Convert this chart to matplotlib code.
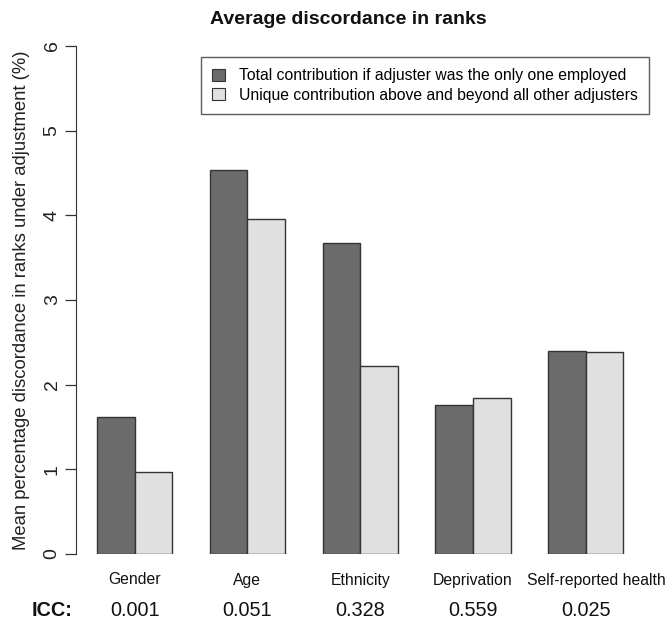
import matplotlib
matplotlib.use("Agg")
import matplotlib.pyplot as plt
import matplotlib.transforms as mtransforms
from matplotlib.patches import Patch
import numpy as np

categories = ["Gender", "Age", "Ethnicity", "Deprivation", "Self-reported health"]
total_contrib = [1.62, 4.54, 3.67, 1.76, 2.40]
unique_contrib = [0.97, 3.96, 2.22, 1.84, 2.38]
icc_values = ["0.001", "0.051", "0.328", "0.559", "0.025"]
series_labels = ["Total contribution if adjuster was the only one employed",
                 "Unique contribution above and beyond all other adjusters"]
yticks = [0, 1, 2, 3, 4, 5, 6]
label_shift_px = [0, 0, 0, 0, 11]

plt.rcParams['font.family'] = ['Liberation Sans', 'DejaVu Sans']

W, H = 672, 621
fig = plt.figure(figsize=(W / 100, H / 100), dpi=100)

# pixel geometry
ax_left, ax_right = 76, 648
y0_px, y6_px = 554, 46
ax = fig.add_axes([ax_left / W, (H - y0_px) / H, (ax_right - ax_left) / W, (y0_px - y6_px) / H])

unit = 37.6
x0_px = 97 - unit
ax.set_xlim((ax_left - x0_px) / unit, (ax_right - x0_px) / unit)
ax.set_ylim(0, 6)

dark = "#6b6b6b"
light = "#e0e0e0"
edge = "#333333"

n = len(categories)
lefts_dark = np.array([1 + 3 * i for i in range(n)], dtype=float)
lefts_light = lefts_dark + 1
ax.bar(lefts_dark, total_contrib, width=1, align='edge', color=dark, edgecolor=edge, linewidth=1.0)
ax.bar(lefts_light, unique_contrib, width=1, align='edge', color=light, edgecolor=edge, linewidth=1.0)

for s in ['top', 'right', 'bottom']:
    ax.spines[s].set_visible(False)
ax.spines['left'].set_bounds(0, 6)
ax.spines['left'].set_color('#333333')
ax.set_yticks(yticks)
ax.set_yticklabels([str(t) for t in yticks], rotation=90, va='center', fontsize=14)
ax.tick_params(axis='y', length=8, width=0.9, color='#333333', pad=3, labelcolor='#222222')

centers = lefts_dark + 1
ax.set_xticks([])
trans = mtransforms.blended_transform_factory(ax.transData, fig.transFigure)
for c, name, sh in zip(centers, categories, label_shift_px):
    t = trans + mtransforms.ScaledTranslation(sh / 100, 0, fig.dpi_scale_trans)
    ax.text(c, (H - 580) / H, name, transform=t, ha='center', va='center',
            fontsize=11.3, color='#111111')

fig.text(22 / W, 0.5 * ((H - y0_px) + (H - y6_px)) / H,
         "Mean percentage discordance in ranks under adjustment (%)", rotation=90,
         ha='center', va='center', fontsize=13.3, color='#222222')

fig.text(348 / W, (H - 20) / H, "Average discordance in ranks", ha='center', va='center',
         fontsize=14, fontweight='bold', color='#111111')

# ICC row
icc_y = (H - 610) / H
for c, v in zip(centers, icc_values):
    ax.text(c, icc_y, v, transform=trans, ha='center', va='center', fontsize=14.3, color='#111111')
fig.text(32 / W, icc_y, "ICC:", ha='left', va='center', fontsize=14.3, fontweight='bold', color='#111111')

handles = [Patch(facecolor=dark, edgecolor=edge, linewidth=0.8),
           Patch(facecolor=light, edgecolor=edge, linewidth=0.8)]
leg = ax.legend(handles, series_labels, loc='upper right',
                bbox_to_anchor=((649 - ax_left) / (ax_right - ax_left), 1 - (57 - y6_px) / (y0_px - y6_px)),
                fontsize=11.3, frameon=True, fancybox=False, handlelength=0.8, handleheight=0.8,
                handletextpad=0.9, borderpad=0.7, labelspacing=0.3, borderaxespad=0)
leg.get_frame().set_edgecolor('#333333')
leg.get_frame().set_linewidth(1.0)

fig.savefig("out.png", dpi=100)
